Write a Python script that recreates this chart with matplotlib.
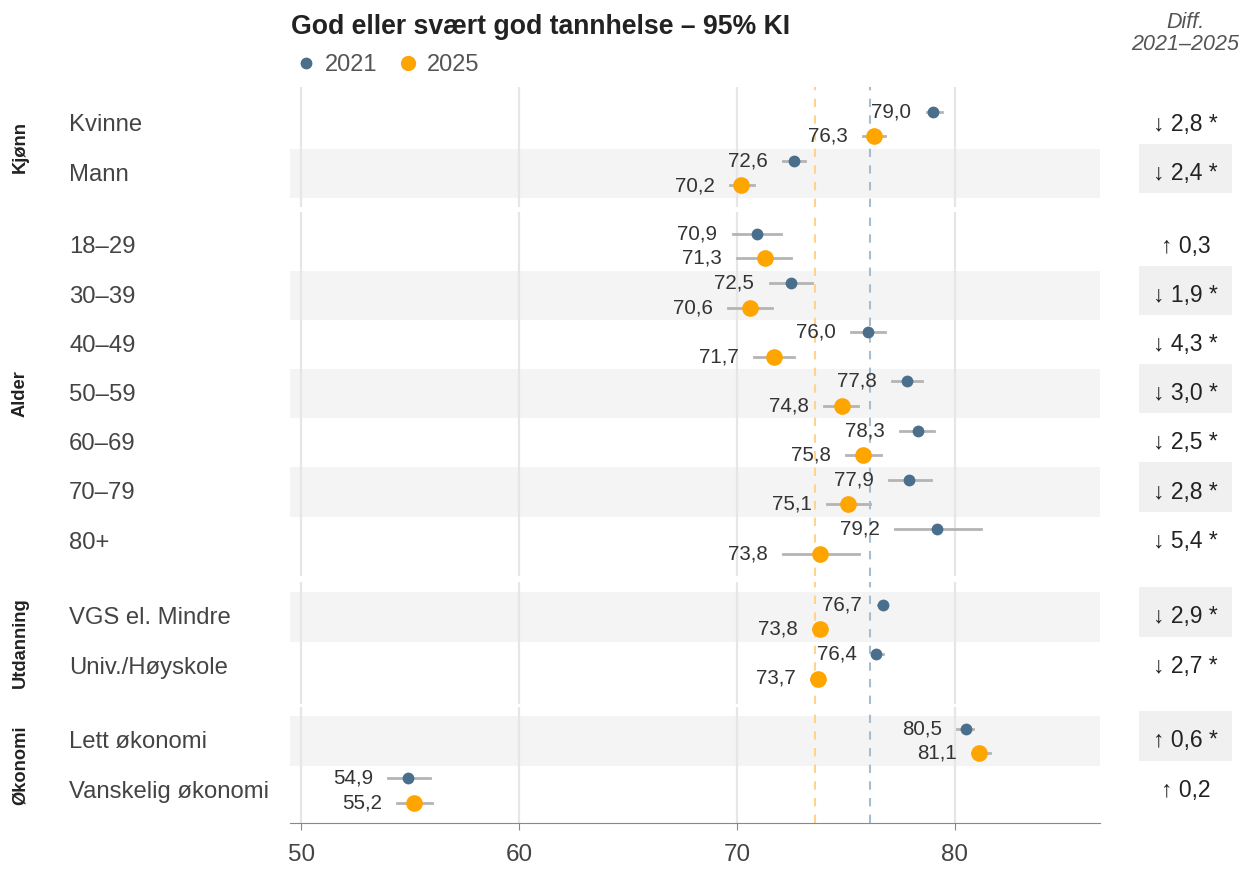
import matplotlib
matplotlib.use('Agg')
import matplotlib.pyplot as plt
from matplotlib.lines import Line2D
from matplotlib.transforms import blended_transform_factory
import numpy as np

plt.rcParams['font.family'] = ['Liberation Sans', 'DejaVu Sans']

# data
groups = ['Kjønn', 'Alder', 'Utdanning', 'Økonomi']
categories = [
    ['Kvinne', 'Mann'],
    ['18–29', '30–39', '40–49', '50–59', '60–69', '70–79', '80+'],
    ['VGS el. Mindre', 'Univ./Høyskole'],
    ['Lett økonomi', 'Vanskelig økonomi'],
]
val_2021 = [79.0, 72.6, 70.9, 72.5, 76.0, 77.8, 78.3, 77.9, 79.2, 76.7, 76.4, 80.5, 54.9]
low_2021 = [78.7, 72.1, 69.8, 71.5, 75.25, 77.1, 77.5, 77.0, 77.25, 76.45, 76.2, 80.1, 54.0]
high_2021 = [79.4, 73.1, 72.0, 73.45, 76.8, 78.5, 79.05, 78.9, 81.2, 76.9, 76.7, 80.85, 55.9]
val_2025 = [76.3, 70.2, 71.3, 70.6, 71.7, 74.8, 75.8, 75.1, 73.8, 73.8, 73.7, 81.1, 55.2]
low_2025 = [75.8, 69.7, 70.0, 69.6, 70.8, 74.0, 75.0, 74.15, 72.1, 73.5, 73.4, 80.8, 54.4]
high_2025 = [76.8, 70.8, 72.5, 71.6, 72.6, 75.55, 76.6, 76.1, 75.6, 74.1, 73.9, 81.6, 56.0]
diff_arrow = ['↓', '↓', '↑', '↓', '↓', '↓', '↓', '↓', '↓', '↓', '↓', '↑', '↑']
diff_value = ['2,8', '2,4', '0,3', '1,9', '4,3', '3,0', '2,5', '2,8', '5,4', '2,9', '2,7', '0,6', '0,2']
diff_signif = [True, True, False, True, True, True, True, True, True, True, True, True, False]
mean_2021 = 76.1
mean_2025 = 73.6
xticks = [50, 60, 70, 80]

BLUE = '#4a6f8c'
ORANGE = '#ffa500'
W, H = 1241, 871

fig = plt.figure(figsize=(W / 100, H / 100), dpi=100)


def px_axes(left, top, right, bottom):
    return fig.add_axes([left / W, 1 - bottom / H, (right - left) / W, (bottom - top) / H])


tops = [87, 212, 582, 707]
bottoms = [207, 576, 704, 823]
pad_top = [37, 34, 35, 34]
rh = 49.2

k = 0
for g, (grp, cats) in enumerate(zip(groups, categories)):
    n = len(cats)
    ax = px_axes(290, tops[g], 1100, bottoms[g])
    dax = px_axes(1139, tops[g], 1232, bottoms[g])
    ytop = -pad_top[g] / rh
    ybot = ytop + (bottoms[g] - tops[g]) / rh
    for a in (ax, dax):
        a.set_ylim(ybot, ytop)
        a.set_yticks([])
        for s in a.spines.values():
            s.set_visible(False)
    ax.set_xlim(49.49, 86.66)
    dax.set_xlim(0, 1)
    dax.set_xticks([])
    ax.set_xticks(xticks)
    ax.grid(axis='x', color='#e6e6e6', lw=1.6, zorder=0.5)
    ax.set_axisbelow(True)
    ax.axvline(mean_2025, color='#ffd48a', lw=1.5, ls=(0, (4, 4)), zorder=1)
    ax.axvline(mean_2021, color='#a9bccc', lw=1.5, ls=(0, (4, 4)), zorder=1)

    tr = blended_transform_factory(fig.transFigure, ax.transData)
    for i, cat in enumerate(cats):
        if k % 2 == 1:
            ax.axhspan(i - 0.5, i + 0.5, color='#f4f4f4', lw=0, zorder=0)
            dax.axhspan(i - 0.6, i + 0.4, xmin=0, xmax=1, color='#f0f0f0', lw=0, zorder=0)
        ax.text(69 / W, i + 0.03, cat, transform=tr, ha='left', va='center', fontsize=17.2, color='#444444')

        y1, y2 = i - 0.25, i + 0.25
        ax.plot([low_2021[k], high_2021[k]], [y1, y1], color='#b4b4b4', lw=2, zorder=2)
        ax.plot([low_2025[k], high_2025[k]], [y2, y2], color='#b4b4b4', lw=2, zorder=2)
        ax.plot(val_2021[k], y1, 'o', color=BLUE, ms=8.5, mec='none', zorder=3)
        ax.plot(val_2025[k], y2, 'o', color=ORANGE, ms=12, mec='none', zorder=3)
        ax.annotate(f'{val_2021[k]:.1f}'.replace('.', ','), (low_2021[k], y1), xytext=(-11, 0),
                    textcoords='offset points', ha='right', va='center', fontsize=14.8, color='#333333', zorder=4)
        ax.annotate(f'{val_2025[k]:.1f}'.replace('.', ','), (low_2025[k], y2), xytext=(-11, 0),
                    textcoords='offset points', ha='right', va='center', fontsize=14.8, color='#333333', zorder=4)

        label = f'{diff_arrow[k]} {diff_value[k]}' + (' *' if diff_signif[k] else '')
        dax.text(0.5, i, label, ha='center', va='center', fontsize=16.5, color='#222222')
        k += 1

    fig.text(20 / W, 1 - (tops[g] + bottoms[g]) / 2 / H, grp, rotation=90, ha='center', va='center',
             fontsize=13.2, fontweight='bold', color='#222222')

    if g == len(groups) - 1:
        ax.spines['bottom'].set_visible(True)
        ax.spines['bottom'].set_color('#888888')
        ax.tick_params(axis='x', length=5, color='#888888', labelsize=17.5, labelcolor='#444444', pad=10)
    else:
        ax.tick_params(axis='x', length=0, labelbottom=False)

fig.text(291 / W, 1 - 27 / H, 'God eller svært god tannhelse – 95% KI', ha='left', va='center',
         fontsize=19.2, fontweight='bold', color='#222222')
fig.text(1185 / W, 1 - 22 / H, 'Diff.', ha='center', va='center', fontsize=15.5, style='italic', color='#555555')
fig.text(1185 / W, 1 - 45 / H, '2021–2025', ha='center', va='center', fontsize=15.5, style='italic', color='#555555')

handles = [Line2D([], [], marker='o', ls='none', color=BLUE, ms=8.5, mec='none'),
           Line2D([], [], marker='o', ls='none', color=ORANGE, ms=11, mec='none')]
fig.legend(handles, ['2021', '2025'], loc='center left', bbox_to_anchor=(293 / W, 1 - 65 / H), ncol=2,
           frameon=False, fontsize=17, labelcolor='#555555', handletextpad=0.25, columnspacing=0.75,
           borderaxespad=0, borderpad=0, handlelength=1.1)

fig.savefig('out.png', dpi=100)
